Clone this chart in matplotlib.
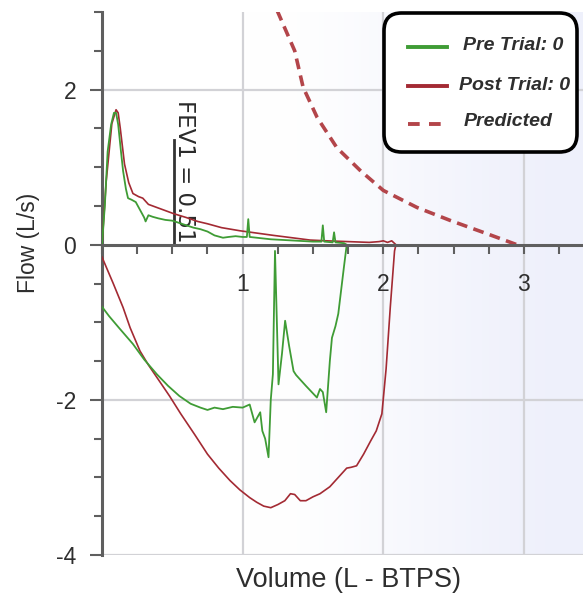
import numpy as np
import matplotlib
matplotlib.use("Agg")
import matplotlib.pyplot as plt
from matplotlib.ticker import MultipleLocator, FixedLocator
from matplotlib.lines import Line2D
from matplotlib.patches import FancyBboxPatch

plt.rcParams['font.family'] = ['Liberation Sans', 'DejaVu Sans']
plt.rcParams['axes.unicode_minus'] = False

# ---- data (volume L, flow L/s) ----
pre_exp_vol = [0, 0.02, 0.04, 0.065, 0.085, 0.1, 0.115, 0.135, 0.15, 0.17, 0.185, 0.21, 0.24, 0.27, 0.3, 0.31,
               0.33, 0.36, 0.4, 0.45, 0.5, 0.55, 0.6, 0.65, 0.7, 0.75, 0.8, 0.86, 0.9, 0.95, 1.0, 1.03, 1.04,
               1.05, 1.1, 1.2, 1.3, 1.4, 1.5, 1.56, 1.57, 1.58, 1.64, 1.65, 1.66, 1.72, 1.74]
pre_exp_flow = [0, 0.5, 1.2, 1.55, 1.7, 1.7, 1.55, 1.2, 0.95, 0.72, 0.6, 0.58, 0.55, 0.45, 0.35, 0.3,
                0.38, 0.36, 0.34, 0.32, 0.31, 0.28, 0.25, 0.22, 0.2, 0.17, 0.12, 0.09, 0.1, 0.11, 0.1, 0.1, 0.33,
                0.1, 0.09, 0.07, 0.06, 0.05, 0.04, 0.04, 0.25, 0.04, 0.03, 0.16, 0.03, 0.02, 0.0]
pre_insp_vol = [1.74, 1.72, 1.68, 1.66, 1.635, 1.62, 1.594, 1.57, 1.55, 1.528, 1.45, 1.38, 1.362, 1.33, 1.302,
                1.28, 1.255, 1.23, 1.215, 1.2, 1.184, 1.16, 1.14, 1.125, 1.085, 1.05, 1.0, 0.93, 0.86, 0.8,
                0.75, 0.7, 0.63, 0.55, 0.47, 0.39, 0.3, 0.22, 0.12, 0.05, 0.0]
pre_insp_flow = [0.0, -0.29, -0.89, -1.05, -1.2, -1.5, -2.16, -1.9, -1.86, -1.97, -1.82, -1.68, -1.63, -1.3, -0.98,
                 -1.4, -1.8, -0.08, -1.67, -2.0, -2.74, -2.5, -2.4, -2.16, -2.29, -2.06, -2.1, -2.09, -2.12, -2.1,
                 -2.13, -2.1, -2.05, -1.95, -1.82, -1.67, -1.48, -1.28, -1.07, -0.92, -0.8]

post_exp_vol = [0, 0.03, 0.07, 0.1, 0.115, 0.13, 0.16, 0.19, 0.22, 0.26, 0.29, 0.33, 0.36, 0.39, 0.45, 0.51,
                0.6, 0.68, 0.75, 0.85, 0.98, 1.1, 1.22, 1.35, 1.48, 1.6, 1.75, 1.9, 1.97, 2.0, 2.03, 2.06, 2.09]
post_exp_flow = [0, 0.82, 1.56, 1.74, 1.7, 1.5, 1.04, 0.8, 0.66, 0.62, 0.6, 0.52, 0.5, 0.48, 0.44, 0.4,
                 0.35, 0.3, 0.27, 0.22, 0.18, 0.15, 0.12, 0.09, 0.06, 0.05, 0.04, 0.03, 0.04, 0.05, 0.03, 0.05, 0.0]
post_insp_vol = [2.09, 2.08, 2.05, 2.02, 1.99, 1.95, 1.91, 1.86, 1.81, 1.77, 1.74, 1.68, 1.62, 1.55, 1.5, 1.45,
                 1.41, 1.37, 1.34, 1.3, 1.25, 1.2, 1.15, 1.1, 1.05, 0.98, 0.91, 0.83, 0.75, 0.66, 0.56, 0.48,
                 0.39, 0.33, 0.27, 0.2, 0.15, 0.08, 0.0]
post_insp_flow = [0.0, -0.08, -0.8, -1.6, -2.18, -2.4, -2.53, -2.7, -2.85, -2.87, -2.88, -3.0, -3.12, -3.21, -3.25,
                  -3.3, -3.3, -3.22, -3.21, -3.3, -3.35, -3.39, -3.37, -3.32, -3.26, -3.16, -3.04, -2.88, -2.7,
                  -2.45, -2.18, -1.95, -1.71, -1.55, -1.37, -1.07, -0.81, -0.5, -0.16]

pred_vol = [1.245, 1.37, 1.43, 1.53, 1.67, 1.84, 2.0, 2.24, 2.48, 2.74, 2.95]
pred_flow = [3.02, 2.5, 2.03, 1.64, 1.25, 0.95, 0.7, 0.48, 0.31, 0.14, 0.0]

fev1 = 0.51
fev1_flow = 1.35
fev1_label = "FEV1 = 0.51"

legend_labels = ["Pre Trial: 0", "Post Trial: 0", "Predicted"]
x_ticks = [1, 2, 3]
y_ticks = [-4, -2, 0, 2]

GREEN = "#3f9c35"
RED = "#a32a33"
PRED = "#b3454a"
AXC = "#5f5f5f"
TXT = "#2e2e2e"

W, H = 583, 598
fig = plt.figure(figsize=(W / 100, H / 100), dpi=100)
ax = fig.add_axes([102 / W, 1 - 555 / H, 481 / W, 543 / H])
xlim = (0, 3.42)
ylim = (-4, 3)
ax.set_xlim(*xlim)
ax.set_ylim(*ylim)


def fx(px):
    return px / W


def fy(py):
    return 1 - py / H


# background gradient (white on the left, faint lavender on the right)
g = np.linspace(0, 1, 600)
g = np.clip((g - 0.3) / 0.7, 0, 1)
g = g * g * (3 - 2 * g)
c0 = np.array([1.0, 1.0, 1.0])
c1 = np.array([0.935, 0.942, 0.985])
img = c0[None, None, :] * (1 - g[None, :, None]) + c1[None, None, :] * g[None, :, None]
img = np.repeat(img, 2, axis=0)
ax.imshow(img, extent=[xlim[0], xlim[1], ylim[0], ylim[1]], aspect='auto', zorder=0,
          interpolation='bilinear')

# grid
for gx in x_ticks:
    ax.axvline(gx, color="#d2d2d6", lw=1.6, zorder=1)
for gy in [-4, -2, 2]:
    ax.axhline(gy, color="#d2d2d6", lw=1.6, zorder=1)

# FEV1 marker
ax.plot([fev1, fev1], [0, fev1_flow], color="#333333", lw=2, zorder=2)
ax.text(0.59, 1.86, fev1_label, rotation=-90, ha='center', va='top',
        fontsize=16.5, color="#2a2a2a", zorder=2, family=['DejaVu Sans'])

# curves
ax.plot(pre_exp_vol + pre_insp_vol, pre_exp_flow + pre_insp_flow, color=GREEN, lw=1.3, zorder=4)
ax.plot(post_exp_vol + post_insp_vol, post_exp_flow + post_insp_flow, color=RED, lw=1.2, zorder=3)
ax.plot(pred_vol, pred_flow, color=PRED, lw=2.6, dashes=(3.0, 1.8), zorder=3)

# spines
for s in ['top', 'right']:
    ax.spines[s].set_visible(False)
ax.spines['left'].set_color(AXC)
ax.spines['left'].set_linewidth(2.2)
ax.spines['bottom'].set_position(('data', 0))
ax.spines['bottom'].set_color(AXC)
ax.spines['bottom'].set_linewidth(2.2)
ax.spines['bottom'].set_zorder(6)

ax.xaxis.set_major_locator(FixedLocator(x_ticks))
ax.xaxis.set_minor_locator(MultipleLocator(0.25))
ax.yaxis.set_major_locator(FixedLocator(y_ticks))
ax.yaxis.set_minor_locator(MultipleLocator(0.5))
ax.tick_params(axis='x', which='both', direction='out', length=6.5, width=1.5, color=AXC)
ax.tick_params(axis='x', which='major', pad=14, labelsize=16.5, labelcolor=TXT)
ax.tick_params(axis='y', which='major', direction='out', length=8.5, width=1.5, color=AXC,
               pad=10, labelsize=16.5, labelcolor=TXT)
ax.tick_params(axis='y', which='minor', direction='out', length=6, width=1.5, color=AXC)

fig.text(fx(349), fy(580), "Volume (L - BTPS)", fontsize=19.5, color=TXT, ha='center', va='center')
fig.text(fx(29), fy(243), "Flow (L/s)", fontsize=16.5, color=TXT, rotation=90,
         ha='center', va='center')

# legend (drawn as figure artists)
box = FancyBboxPatch((fx(384), fy(152)), fx(577) - fx(384), fy(13) - fy(152),
                     boxstyle="round,pad=0,rounding_size=0.03", transform=fig.transFigure,
                     facecolor='white', edgecolor='black', linewidth=2.6, zorder=10)
fig.add_artist(box)
leg_colors = [GREEN, RED, PRED]
leg_dash = [None, None, (3.0, 2.4)]
leg_line_y = [47, 86, 124]
leg_text_y = [46, 85, 122]
leg_text_x = [463, 459, 464]
for lab, col, dsh, ly, ty, tx in zip(legend_labels, leg_colors, leg_dash, leg_line_y, leg_text_y, leg_text_x):
    ln = Line2D([fx(408), fx(447)], [fy(ly), fy(ly)], transform=fig.transFigure, color=col,
                lw=2.8, zorder=11)
    if dsh is not None:
        ln.set_dashes(dsh)
    fig.add_artist(ln)
    fig.text(fx(tx), fy(ty), lab, fontsize=14, fontweight='bold', fontstyle='italic',
             color=TXT, ha='left', va='center', zorder=12)

fig.savefig("out.png", dpi=100)
